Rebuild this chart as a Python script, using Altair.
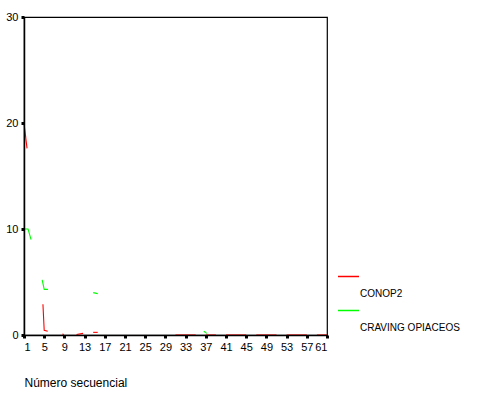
import altair as alt
import pandas as pd

# Sequence chart: two series over the case number, broken where values are missing
series_names = ["CONOP2", "CRAVING OPIACEOS"]
series_colors = ["#ff0000", "#00ff00"]

conop2_x = [1, 1.6, 4.75, 5.0, 5.7, 8.6, 8.9, 11.4, 12.7, 14.7, 15.6, 31, 35, 37, 39, 41, 45, 47, 51, 53, 57, 59, 61]
conop2_y = [20, 17.6, 2.9, 0.45, 0.35, 0.1, 0.05, 0.05, 0.15, 0.25, 0.25, 0, 0, 0, 0, 0, 0, 0, 0, 0, 0, 0, 0]
conop2_seg = [1, 1, 2, 2, 2, 3, 3, 4, 4, 5, 5, 6, 6, 7, 7, 8, 8, 9, 9, 10, 10, 11, 11]

craving_x = [1, 1.8, 2.4, 4.6, 5.0, 5.75, 14.7, 15.6, 36.6, 37.2]
craving_y = [10, 10, 9.0, 5.2, 4.3, 4.3, 4.0, 3.9, 0.35, 0.15]
craving_seg = [1, 1, 1, 2, 2, 2, 3, 3, 4, 4]

x_ticks = list(range(1, 62, 4))
y_ticks = [0, 10, 20, 30]

df = pd.concat([
    pd.DataFrame({"serie": series_names[0], "n": conop2_x, "valor": conop2_y,
                  "tramo": [f"a{s}" for s in conop2_seg]}),
    pd.DataFrame({"serie": series_names[1], "n": craving_x, "valor": craving_y,
                  "tramo": [f"b{s}" for s in craving_seg]}),
])

font = "Liberation Sans"

chart = alt.Chart(df).mark_line(strokeWidth=1.1).encode(
    x=alt.X("n:Q",
            scale=alt.Scale(domain=[1, 61], nice=False, zero=False),
            axis=alt.Axis(values=x_ticks, title="Número secuencial", grid=False,
                          tickSize=3, tickWidth=3, tickColor="#000",
                          domainColor="#000", domainWidth=1.5,
                          labelFont=font, labelFontSize=11, labelColor="#000",
                          labelPadding=3, zindex=1,
                          titleFont=font, titleFontSize=12, titleFontWeight="normal",
                          titleColor="#000", titleAnchor="start", titleAlign="left",
                          titleX=0, titleY=47, titleBaseline="middle")),
    y=alt.Y("valor:Q",
            scale=alt.Scale(domain=[0, 30], nice=False),
            axis=alt.Axis(values=y_ticks, title=None, grid=False,
                          tickSize=3, tickWidth=3, tickColor="#000",
                          domainColor="#000", domainWidth=1.5,
                          labelFont=font, labelFontSize=11, labelColor="#000",
                          labelPadding=3, zindex=1)),
    color=alt.Color("serie:N",
                    scale=alt.Scale(domain=series_names, range=series_colors),
                    legend=alt.Legend(title=None, orient="none", legendX=313, legendY=248,
                                      symbolType="stroke", symbolSize=441,
                                      symbolStrokeWidth=1.5, padding=0,
                                      labelFont=font, labelFontSize=10, labelColor="#000",
                                      labelBaseline="top", labelOffset=0,
                                      labelExpr="['', datum.label]",
                                      rowPadding=0)),
    detail="tramo:N",
).properties(
    width=303,
    height=318,
    autosize=alt.AutoSizeParams(type="none"),
    padding={"left": 24, "top": 17, "right": 175, "bottom": 59},
    view=alt.ViewBackground(stroke="#000000", strokeWidth=1.2, fill="white"),
).configure(background="white")

chart.save("out.html", embed_options={"renderer": "svg", "actions": False})
